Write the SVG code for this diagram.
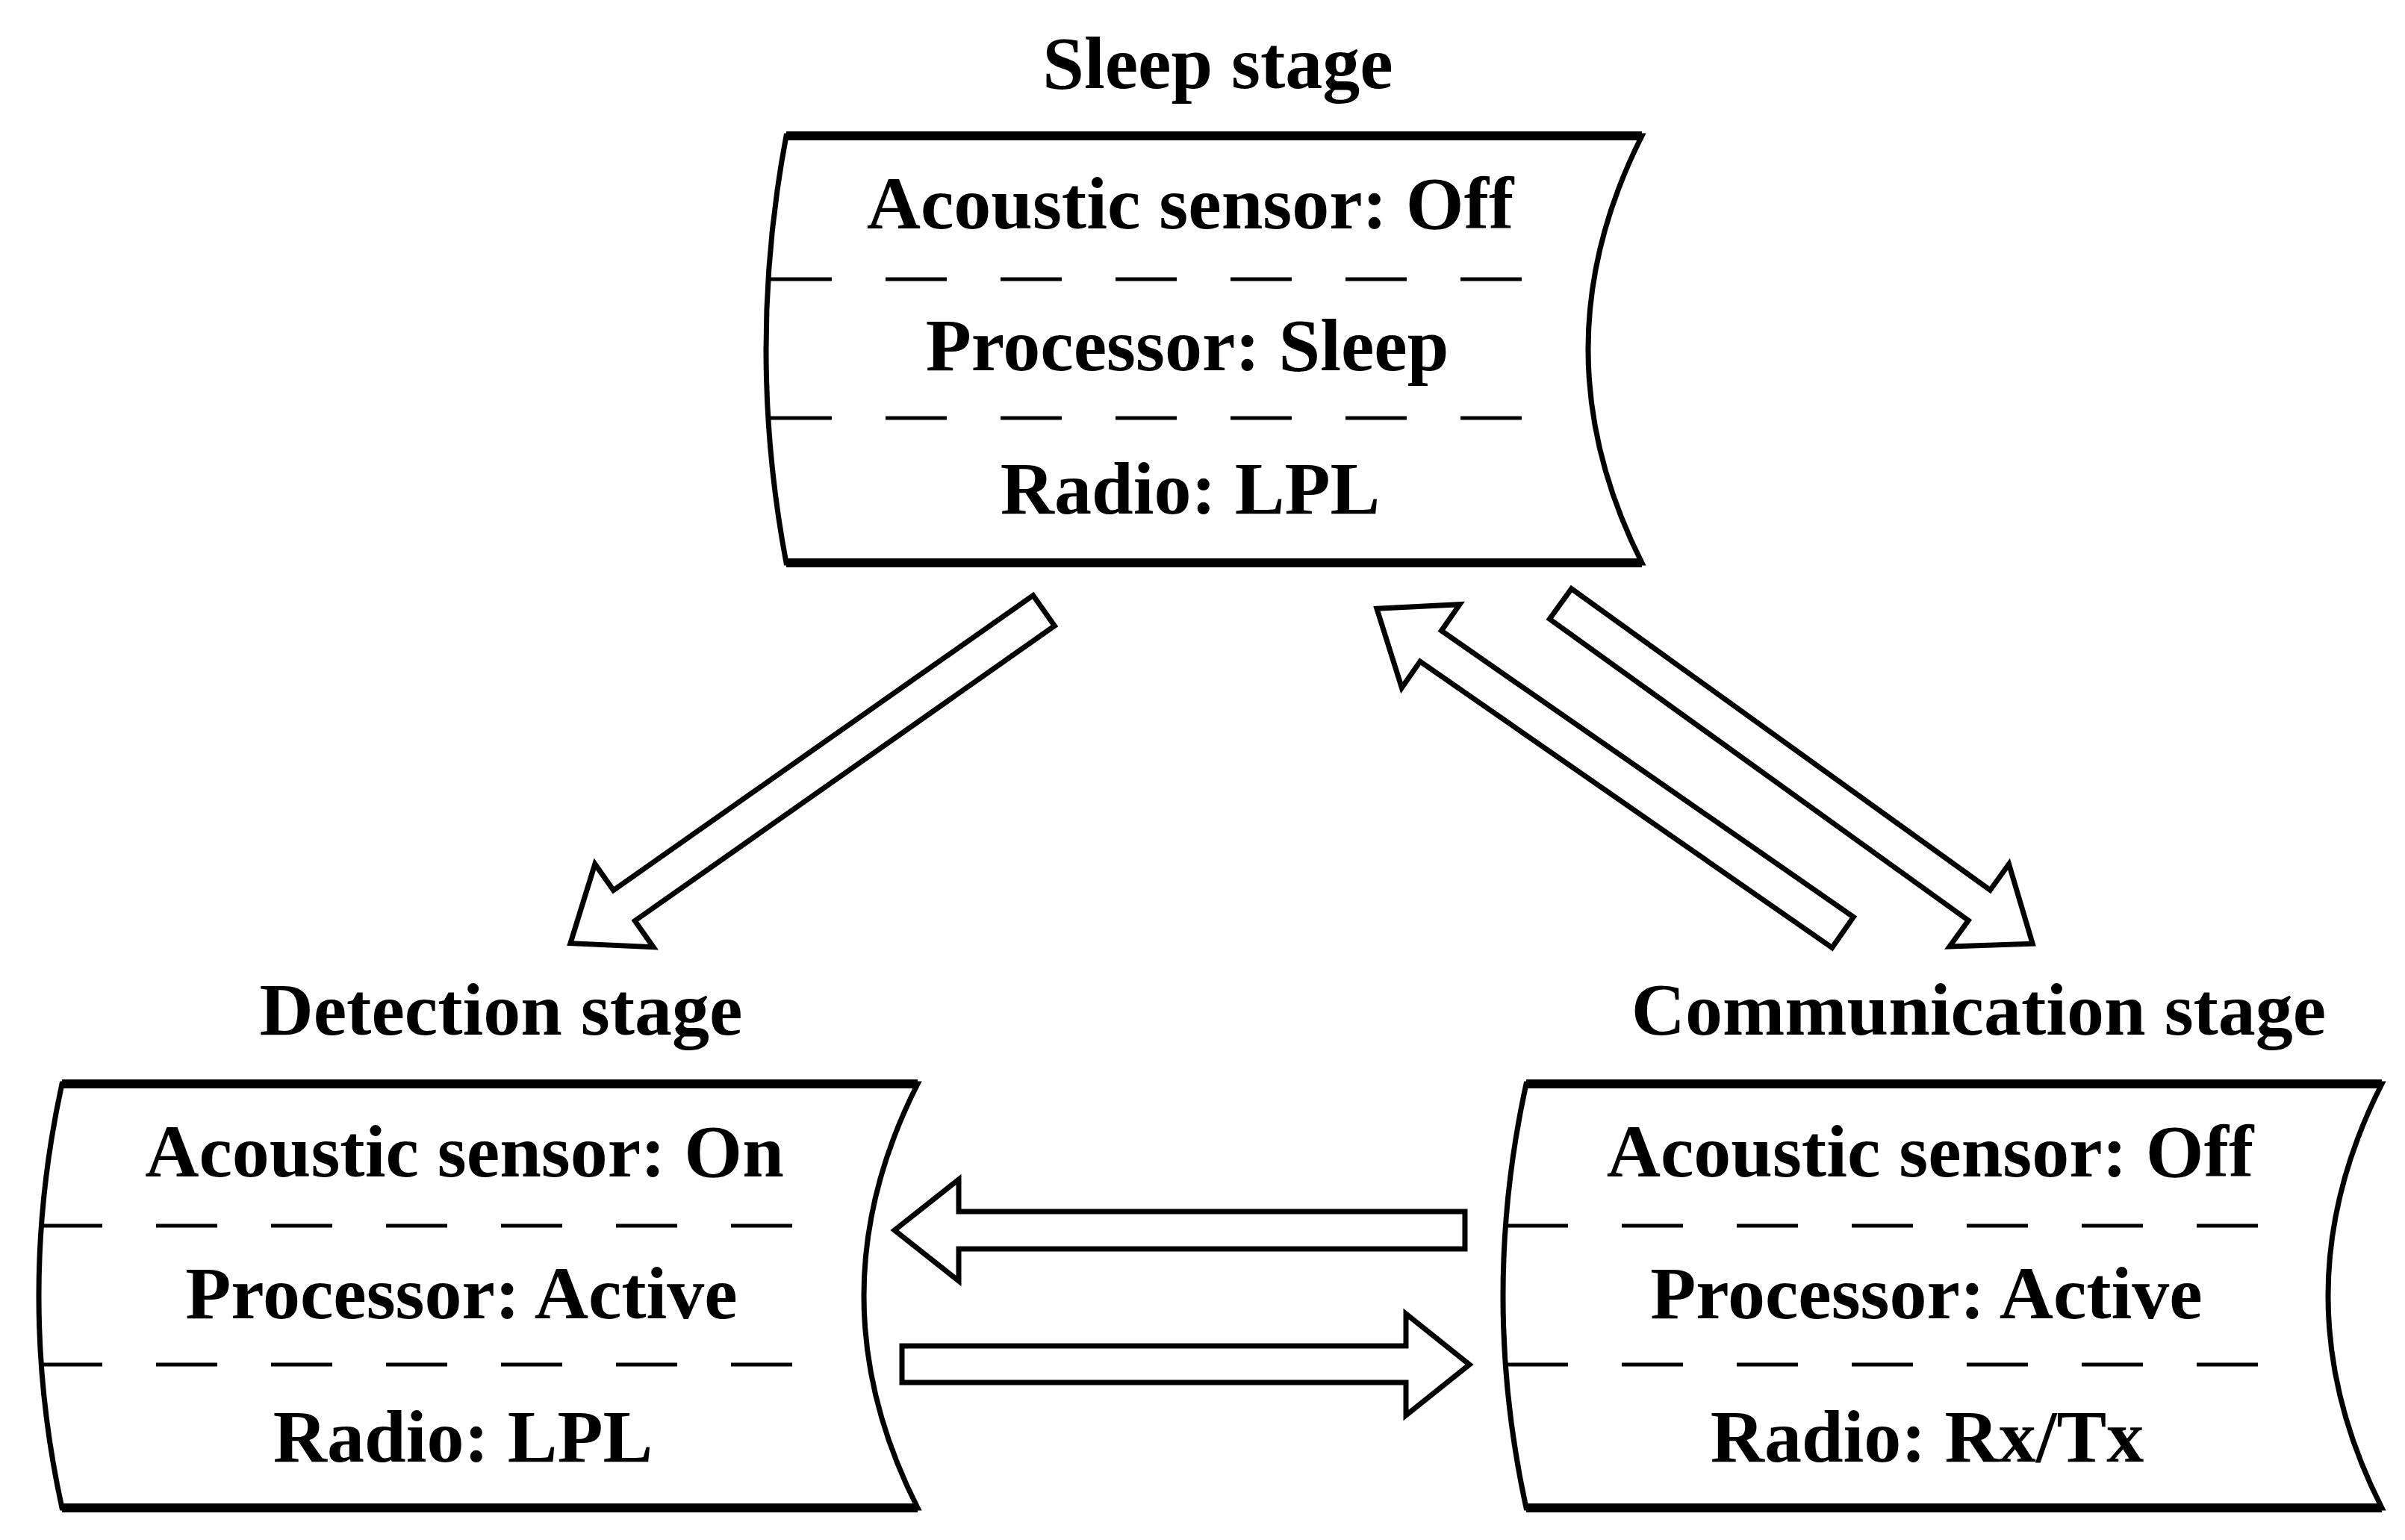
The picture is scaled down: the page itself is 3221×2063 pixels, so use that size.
<svg xmlns="http://www.w3.org/2000/svg" width="3221" height="2063" viewBox="0 0 3221 2063">
<style>
.box{fill:#fff;stroke:#000;stroke-width:7}
.edge{stroke:#000;stroke-width:12;fill:none}
.dash{stroke:#000;stroke-width:5;stroke-dasharray:82 72;fill:none}
.t{font-family:"Liberation Serif",serif;font-weight:bold;font-size:100px;text-anchor:middle;fill:#000}
.arr{fill:#fff;stroke:#000;stroke-width:7;stroke-linejoin:miter}
</style>
<rect width="3221" height="2063" fill="#fff"/>
<g id="sleep">
<text class="t" x="1631" y="118">Sleep stage</text>
<path class="box" d="M1053,182 L2199,182 Q2055,468 2199,754 L1053,754 Q999,468 1053,182 Z"/>
<path class="edge" d="M1053,182 H2199 M1053,754 H2199"/>
<path class="dash" d="M1032,374 H2066 M1032,560 H2060"/>
<text class="t" x="1594" y="306">Acoustic sensor: Off</text>
<text class="t" x="1590" y="496">Processor: Sleep</text>
<text class="t" x="1594" y="688">Radio: LPL</text>
</g>
<g id="detection">
<text class="t" x="671" y="1386">Detection stage</text>
<path class="box" d="M83,1452 L1229,1452 Q1085,1736 1229,2020 L83,2020 Q21,1736 83,1452 Z"/>
<path class="edge" d="M83,1452 H1229 M83,2020 H1229"/>
<path class="dash" d="M55,1642 H1092 M55,1828 H1090"/>
<text class="t" x="622" y="1576">Acoustic sensor: On</text>
<text class="t" x="618" y="1766">Processor: Active</text>
<text class="t" x="620" y="1958">Radio: LPL</text>
</g>
<g id="communication">
<text class="t" x="2650" y="1386">Communication stage</text>
<path class="box" d="M2044,1452 L3190,1452 Q3046,1736 3190,2020 L2044,2020 Q1982,1736 2044,1452 Z"/>
<path class="edge" d="M2044,1452 H3190 M2044,2020 H3190"/>
<path class="dash" d="M2018,1642 H3054 M2018,1828 H3052"/>
<text class="t" x="2585" y="1576">Acoustic sensor: Off</text>
<text class="t" x="2580" y="1766">Processor: Active</text>
<text class="t" x="2581" y="1958">Radio: Rx/Tx</text>
</g>
<g id="connectors">
<polygon class="arr" transform="translate(1398,818) rotate(144.9)" points="0,-25 687,-25 687,-68 775,0 687,68 687,25 0,25"/>
<polygon class="arr" transform="translate(2468,1249) rotate(214.8)" points="0,-25 672,-25 672,-68 760,0 672,68 672,25 0,25"/>
<polygon class="arr" transform="translate(2090,809) rotate(35.75)" points="0,-25 691,-25 691,-68 779,0 691,68 691,25 0,25"/>
<polygon class="arr" points="1962,1623 1284,1623 1284,1580 1198,1648 1284,1716 1284,1673 1962,1673"/>
<polygon class="arr" points="1208,1803 1883,1803 1883,1760 1968,1828 1883,1896 1883,1852 1208,1852"/>
</g>
</svg>
